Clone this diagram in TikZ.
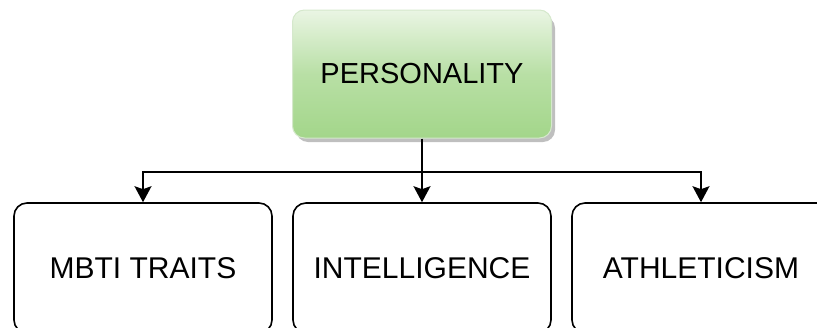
\documentclass[tikz,border=0pt]{standalone}
\usepackage{fontspec}
\setmainfont{Liberation Sans}
\usetikzlibrary{arrows.meta}
\definecolor{gtop}{HTML}{EAF5E4}
\definecolor{gbot}{HTML}{A3D68A}
\definecolor{gborder}{HTML}{D5E8CC}
\begin{document}
\begin{tikzpicture}[x=1pt,y=-1pt,
  leaf/.style={draw=black,line width=1.6pt,rounded corners=13pt,minimum width=258pt,minimum height=130pt,inner sep=0pt,font=\fontsize{30}{36}\selectfont},
  rootbox/.style={draw=gborder,line width=1pt,rounded corners=12pt,minimum width=259pt,minimum height=128pt,inner sep=0pt,top color=gtop,bottom color=gbot,middle color=gbot!70!gtop,font=\fontsize{29}{34}\selectfont},
  conn/.style={line width=1.6pt,-{Stealth[width=17pt,length=16pt,inset=3pt]}}]
\useasboundingbox (0,0) rectangle (817,327);
\clip (0,0) rectangle (817,327);
\fill[black!25,rounded corners=12pt] (296,16) rectangle (555,142);
\node[rootbox] (root) at (422,74) {PERSONALITY};
\node[leaf] (a) at (143,268) {MBTI TRAITS};
\node[leaf] (b) at (422,268) {INTELLIGENCE};
\node[leaf] (c) at (701,268) {ATHLETICISM};
\coordinate (j) at (422,172);
\draw[line width=1.6pt] (root.south) -- (j);
\draw[conn] (j) -| (a.north);
\draw[conn] (j) -- (b.north);
\draw[conn] (j) -| (c.north);
\end{tikzpicture}
\end{document}
